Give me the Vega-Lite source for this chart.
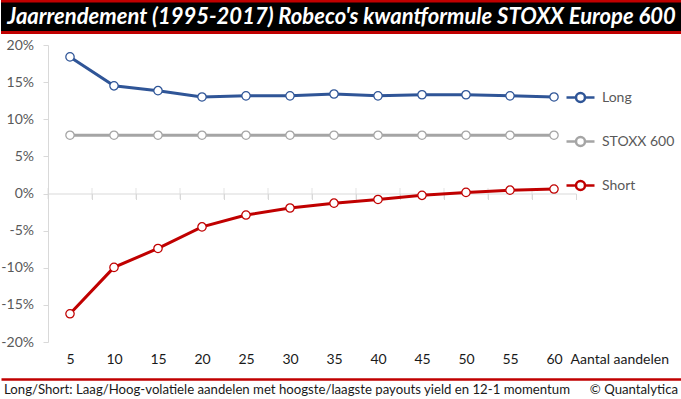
{
  "$schema": "https://vega.github.io/schema/vega-lite/v6.json",
  "padding": 0,
  "background": "white",
  "config": {"view": {"stroke": null}},
  "spacing": 13,
  "vconcat": [
    {
      "spacing": 4,
      "vconcat": [
        {
          "width": 681,
          "height": 34,
          "view": {"fill": "#C00000", "stroke": null},
          "data": {"values": [{"title": "Jaarrendement (1995-2017) Robeco's kwantformule STOXX Europe 600"}]},
          "layer": [
            {
              "mark": {"type": "rect", "color": "black"},
              "encoding": {
                "y": {"datum": 3, "type": "quantitative", "scale": {"domain": [0, 34], "nice": false, "zero": false}, "axis": null},
                "y2": {"datum": 31.5}
              }
            },
            {
              "mark": {"type": "text", "color": "white", "font": "Lato", "fontSize": 22, "fontStyle": "italic", "fontWeight": "bold", "baseline": "middle", "align": "center"},
              "encoding": {"text": {"field": "title"}}
            }
          ]
        },
        {
          "width": 681,
          "height": 297,
          "data": {
            "values": [
              {"n": 5, "series": "Long", "value": 0.184},
              {"n": 10, "series": "Long", "value": 0.145},
              {"n": 15, "series": "Long", "value": 0.1385},
              {"n": 20, "series": "Long", "value": 0.130},
              {"n": 25, "series": "Long", "value": 0.1315},
              {"n": 30, "series": "Long", "value": 0.1315},
              {"n": 35, "series": "Long", "value": 0.134},
              {"n": 40, "series": "Long", "value": 0.1315},
              {"n": 45, "series": "Long", "value": 0.133},
              {"n": 50, "series": "Long", "value": 0.133},
              {"n": 55, "series": "Long", "value": 0.1315},
              {"n": 60, "series": "Long", "value": 0.130},
              {"n": 5, "series": "STOXX 600", "value": 0.0785},
              {"n": 10, "series": "STOXX 600", "value": 0.0785},
              {"n": 15, "series": "STOXX 600", "value": 0.0785},
              {"n": 20, "series": "STOXX 600", "value": 0.0785},
              {"n": 25, "series": "STOXX 600", "value": 0.0785},
              {"n": 30, "series": "STOXX 600", "value": 0.0785},
              {"n": 35, "series": "STOXX 600", "value": 0.0785},
              {"n": 40, "series": "STOXX 600", "value": 0.0785},
              {"n": 45, "series": "STOXX 600", "value": 0.0785},
              {"n": 50, "series": "STOXX 600", "value": 0.0785},
              {"n": 55, "series": "STOXX 600", "value": 0.0785},
              {"n": 60, "series": "STOXX 600", "value": 0.0785},
              {"n": 5, "series": "Short", "value": -0.162},
              {"n": 10, "series": "Short", "value": -0.0995},
              {"n": 15, "series": "Short", "value": -0.074},
              {"n": 20, "series": "Short", "value": -0.045},
              {"n": 25, "series": "Short", "value": -0.029},
              {"n": 30, "series": "Short", "value": -0.0195},
              {"n": 35, "series": "Short", "value": -0.013},
              {"n": 40, "series": "Short", "value": -0.008},
              {"n": 45, "series": "Short", "value": -0.0025},
              {"n": 50, "series": "Short", "value": 0.0015},
              {"n": 55, "series": "Short", "value": 0.0045},
              {"n": 60, "series": "Short", "value": 0.006}
            ]
          },
          "encoding": {
            "x": {
              "field": "n",
              "type": "ordinal",
              "scale": {"type": "band", "range": [47, 575], "paddingInner": 0, "paddingOuter": 0},
              "axis": {
                "orient": "bottom",
                "offset": -148.5,
                "domainColor": "#D9D9D9",
                "domainWidth": 1,
                "ticks": true,
                "tickColor": "#D9D9D9",
                "tickSize": 6,
                "tickBand": "extent",
                "tickExtra": true,
                "labelAngle": 0,
                "labelBaseline": "middle",
                "labelPadding": 159.5,
                "labelFont": "Lato",
                "labelFontSize": 14,
                "labelColor": "#1A1A1A",
                "labelOverlap": false,
                "title": "Aantal aandelen",
                "titleX": 569,
                "titleY": 165.5,
                "titleAlign": "left",
                "titleBaseline": "middle",
                "titleFont": "Lato",
                "titleFontSize": 14,
                "titleFontWeight": "normal",
                "titleColor": "#1A1A1A",
                "grid": false
              }
            },
            "y": {
              "field": "value",
              "type": "quantitative",
              "scale": {"domain": [-0.2, 0.2], "nice": false},
              "axis": {
                "orient": "left",
                "offset": -47,
                "values": [-0.2, -0.15, -0.1, -0.05, 0, 0.05, 0.1, 0.15, 0.2],
                "labelExpr": "(datum.value < -0.0001 ? '-' : '') + format(abs(datum.value), '.0%')",
                "labelOverlap": false,
                "domainColor": "#D9D9D9",
                "tickColor": "#D9D9D9",
                "tickSize": 5,
                "labelPadding": 9.5,
                "labelFont": "Lato",
                "labelFontSize": 14,
                "labelColor": "#595959",
                "grid": false,
                "title": null
              }
            }
          },
          "layer": [
            {
              "transform": [{"filter": "datum.series == 'Long'"}],
              "mark": {"type": "tick", "orient": "vertical", "size": 11, "thickness": 1, "color": "#D9D9D9"},
              "encoding": {
                "x": {"field": "n", "type": "ordinal", "bandPosition": 0},
                "y": {
                  "datum": 0,
                  "type": "quantitative",
                  "scale": {"domain": [-0.2, 0.2], "nice": false},
                  "axis": {
                    "orient": "left",
                    "offset": -47,
                    "values": [-0.2, -0.15, -0.1, -0.05, 0, 0.05, 0.1, 0.15, 0.2],
                    "labelExpr": "(datum.value < -0.0001 ? '-' : '') + format(abs(datum.value), '.0%')",
                    "labelOverlap": false,
                    "domainColor": "#D9D9D9",
                    "tickColor": "#D9D9D9",
                    "tickSize": 5,
                    "labelPadding": 9.5,
                    "labelFont": "Lato",
                    "labelFontSize": 14,
                    "labelColor": "#595959",
                    "grid": false,
                    "title": null
                  }
                }
              }
            },
            {
              "mark": {"type": "line", "strokeWidth": 3},
              "encoding": {
                "color": {
                  "field": "series",
                  "type": "nominal",
                  "scale": {"domain": ["Long", "STOXX 600", "Short"], "range": ["#2F5597", "#A5A5A5", "#C00000"]},
                  "legend": {
                    "orient": "none",
                    "legendX": 564,
                    "legendY": 82,
                    "title": null,
                    "padding": 0,
                    "symbolType": "M-1,0H-0.32M0.32,0H1M0.32,0A0.32,0.32 0 1 1 -0.32,0A0.32,0.32 0 1 1 0.32,0",
                    "symbolSize": 784,
                    "symbolStrokeWidth": 2.5,
                    "labelFont": "Lato",
                    "labelFontSize": 14,
                    "labelColor": "#595959",
                    "labelOffset": 6,
                    "rowPadding": 19,
                    "encode": {"symbols": {"update": {"fill": {"value": "white"}, "strokeWidth": {"value": 2.5}, "opacity": {"value": 1}}}}
                  }
                }
              }
            },
            {
              "mark": {"type": "point", "filled": false, "fill": "white", "size": 70, "strokeWidth": 1.25, "opacity": 1},
              "encoding": {
                "color": {"field": "series", "type": "nominal"}
              }
            }
          ]
        }
      ]
    },
    {
      "width": 681,
      "height": 21,
      "data": {"values": [{"left": "Long/Short: Laag/Hoog-volatiele aandelen met hoogste/laagste payouts yield en 12-1 momentum", "right": "© Quantalytica"}]},
      "layer": [
        {
          "mark": {"type": "text", "align": "left", "dx": 3, "baseline": "middle", "font": "Lato", "fontSize": 13.2, "color": "#1A1A1A"},
          "encoding": {
            "x": {
              "datum": 0,
              "type": "quantitative",
              "scale": {"domain": [0, 1], "nice": false, "zero": false},
              "axis": {"orient": "top", "domainColor": "#C00000", "domainWidth": 2.5, "ticks": false, "labels": false, "title": null, "grid": false}
            },
            "text": {"field": "left"}
          }
        },
        {
          "mark": {"type": "text", "align": "right", "dx": -4, "baseline": "middle", "font": "Lato", "fontSize": 13.2, "color": "#1A1A1A"},
          "encoding": {
            "x": {"datum": 1, "type": "quantitative"},
            "text": {"field": "right"}
          }
        }
      ]
    }
  ]
}
